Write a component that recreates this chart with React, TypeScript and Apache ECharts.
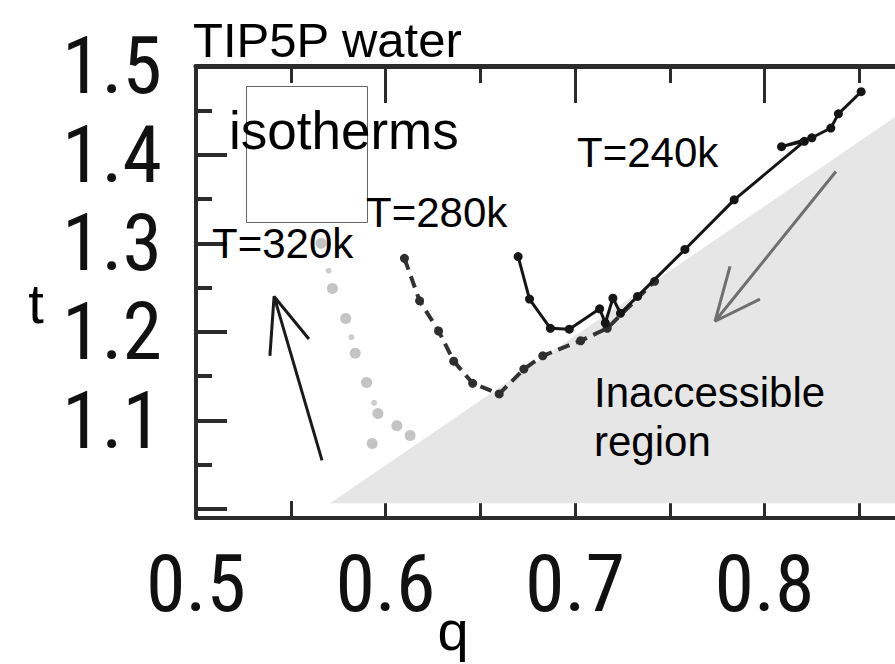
import React, { useEffect, useRef } from "react";
import * as echarts from "echarts";

// Tick values / labels
const qLabelValues = [0.5, 0.6, 0.7, 0.8];
const tLabelValues = [1.1, 1.2, 1.3, 1.4, 1.5];
const tMajorTicks = [1.0, 1.1, 1.2, 1.3, 1.4, 1.5];
const tMinorTicks = [1.05, 1.15, 1.25, 1.35, 1.45];

// Isotherms in the (q, t) order map
const iso240 = [
  [0.67, 1.285], [0.676, 1.237], [0.687, 1.204], [0.697, 1.203],
  [0.713, 1.226], [0.716, 1.21], [0.72, 1.238], [0.724, 1.221],
  [0.733, 1.24], [0.758, 1.293], [0.784, 1.349], [0.821, 1.415],
  [0.809, 1.409], [0.825, 1.419], [0.835, 1.43], [0.839, 1.446],
  [0.851, 1.471],
];
const iso280 = [
  [0.61, 1.283], [0.618, 1.235], [0.628, 1.201], [0.636, 1.167],
  [0.646, 1.142], [0.66, 1.13], [0.673, 1.158], [0.683, 1.173],
  [0.703, 1.19], [0.717, 1.204], [0.742, 1.257],
];
const iso320 = [
  [0.566, 1.3], [0.572, 1.249], [0.579, 1.215], [0.584, 1.176],
  [0.59, 1.143], [0.596, 1.108], [0.606, 1.094], [0.613, 1.083],
  [0.593, 1.074],
];
const iso320Minor = [[0.57, 1.269], [0.582, 1.194], [0.594, 1.12]];

// Boundary of the inaccessible region
const inaccessibleEdge = [[0.5707, 1.0067], [0.9, 1.488]];
const inaccessibleFloor = 1.0067;

// Direction arrows (tail, tip, head, tip, head)
const arrowHeating = [[0.5665, 1.055], [0.5412, 1.24], [0.539, 1.173], [0.5412, 1.24], [0.5596, 1.192]];
const arrowInward = [[0.8377, 1.381], [0.7739, 1.212], [0.7818, 1.274], [0.7739, 1.212], [0.7976, 1.237]];

const SANS = "'Liberation Sans', Arial, sans-serif";
const TICK_FONT = "'Roboto Condensed', 'Liberation Sans', Arial, sans-serif";
const FRAME = "#2b2b2b";

function label(text: string, x: number, y: number, size: number, align = "left") {
  return {
    type: "text",
    x,
    y,
    z: 100,
    style: { text, fontSize: size, fontFamily: SANS, fill: "#000", align, verticalAlign: "middle" },
  };
}

export default function App() {
  const ref = useRef<HTMLDivElement>(null);

  useEffect(() => {
    if (!ref.current) return;
    const chart = echarts.init(ref.current, undefined, { renderer: "svg" });

    const qAxisBase = {
      type: "value",
      min: 0.5,
      max: 0.9,
      interval: 0.1,
      axisLine: { show: true, onZero: false, lineStyle: { color: FRAME, width: 4 } },
      axisTick: { show: true, inside: true, length: 37, lineStyle: { color: FRAME, width: 3 } },
      minorTick: { show: true, splitNumber: 2, length: 17, lineStyle: { color: FRAME, width: 3 } },
      splitLine: { show: false },
      minorSplitLine: { show: false },
    };

    const tAxisBase = {
      type: "value",
      position: "left",
      min: 0.99,
      max: 1.5,
      splitLine: { show: false },
    };

    const tickLabelStyle = {
      fontSize: 80,
      fontWeight: 400,
      fontFamily: TICK_FONT,
      color: "#111",
      formatter: (v: number) => v.toFixed(1),
    };

    const option = {
      animation: false,
      backgroundColor: "#ffffff",
      grid: { left: 196, right: 0, top: 66, bottom: 146, containLabel: false },
      xAxis: [
        {
          ...qAxisBase,
          position: "bottom",
          axisLabel: { show: true, customValues: qLabelValues, margin: 26, ...tickLabelStyle },
        },
        {
          ...qAxisBase,
          position: "top",
          axisLine: { show: true, onZero: false, lineStyle: { color: FRAME, width: 5 } },
          axisLabel: { show: false },
        },
      ],
      yAxis: [
        {
          ...tAxisBase,
          axisLine: { show: true, onZero: false, lineStyle: { color: FRAME, width: 4 } },
          axisTick: { show: true, inside: true, customValues: tMajorTicks, length: 31, lineStyle: { color: FRAME, width: 4 } },
          axisLabel: { show: true, customValues: tLabelValues, margin: 34, padding: [0, 0, 22, 0], ...tickLabelStyle },
        },
        {
          ...tAxisBase,
          offset: 0,
          axisLine: { show: false },
          axisTick: { show: true, inside: true, customValues: tMinorTicks, length: 16, lineStyle: { color: FRAME, width: 4 } },
          axisLabel: { show: false },
        },
      ],
      series: [
        {
          name: "Inaccessible region",
          type: "line",
          data: inaccessibleEdge,
          symbol: "none",
          lineStyle: { width: 0 },
          areaStyle: { color: "#e6e6e6", opacity: 1, origin: inaccessibleFloor },
          z: 1,
          silent: true,
        },
        {
          name: "T=320k",
          type: "scatter",
          data: iso320,
          symbol: "circle",
          symbolSize: 11,
          itemStyle: { color: "#b5b5b5" },
          z: 3,
        },
        {
          name: "T=320k minor",
          type: "scatter",
          data: iso320Minor,
          symbol: "circle",
          symbolSize: 6,
          itemStyle: { color: "#c2c2c2" },
          z: 3,
        },
        {
          name: "T=280k",
          type: "line",
          data: iso280,
          symbol: "circle",
          symbolSize: 9,
          itemStyle: { color: "#2e2e2e" },
          lineStyle: { color: "#333", width: 4, type: [12, 7] },
          z: 4,
        },
        {
          name: "T=240k",
          type: "line",
          data: iso240,
          symbol: "circle",
          symbolSize: 9,
          itemStyle: { color: "#151515" },
          lineStyle: { color: "#151515", width: 3 },
          z: 5,
        },
        {
          name: "arrow heating",
          type: "line",
          data: arrowHeating,
          symbol: "none",
          lineStyle: { color: "#1a1a1a", width: 3 },
          z: 4,
        },
        {
          name: "arrow inward",
          type: "line",
          data: arrowInward,
          symbol: "none",
          lineStyle: { color: "#6f6f6f", width: 3 },
          z: 4,
        },
      ],
      graphic: [
        {
          type: "rect",
          z: 50,
          shape: { x: 246.5, y: 86.5, width: 121, height: 136 },
          style: { fill: "none", stroke: "#666", lineWidth: 1 },
        },
        label("TIP5P water", 193, 40, 49),
        label("isotherms", 229, 130, 53),
        label("T=320k", 212, 243, 42),
        label("T=280k", 366, 212, 42),
        label("T=240k", 577, 152, 42),
        label("Inaccessible", 594, 392, 42),
        label("region", 594, 441, 42),
        label("t", 36, 303, 56, "center"),
        label("q", 453, 630, 56, "center"),
      ],
    };

    chart.setOption(option as any);
    return () => chart.dispose();
  }, []);

  return (
    <div style={{ position: "absolute", left: 0, top: 0, width: 895, height: 664, overflow: "hidden", background: "#fff" }}>
      <div ref={ref} style={{ width: 954, height: 664 }} />
    </div>
  );
}
